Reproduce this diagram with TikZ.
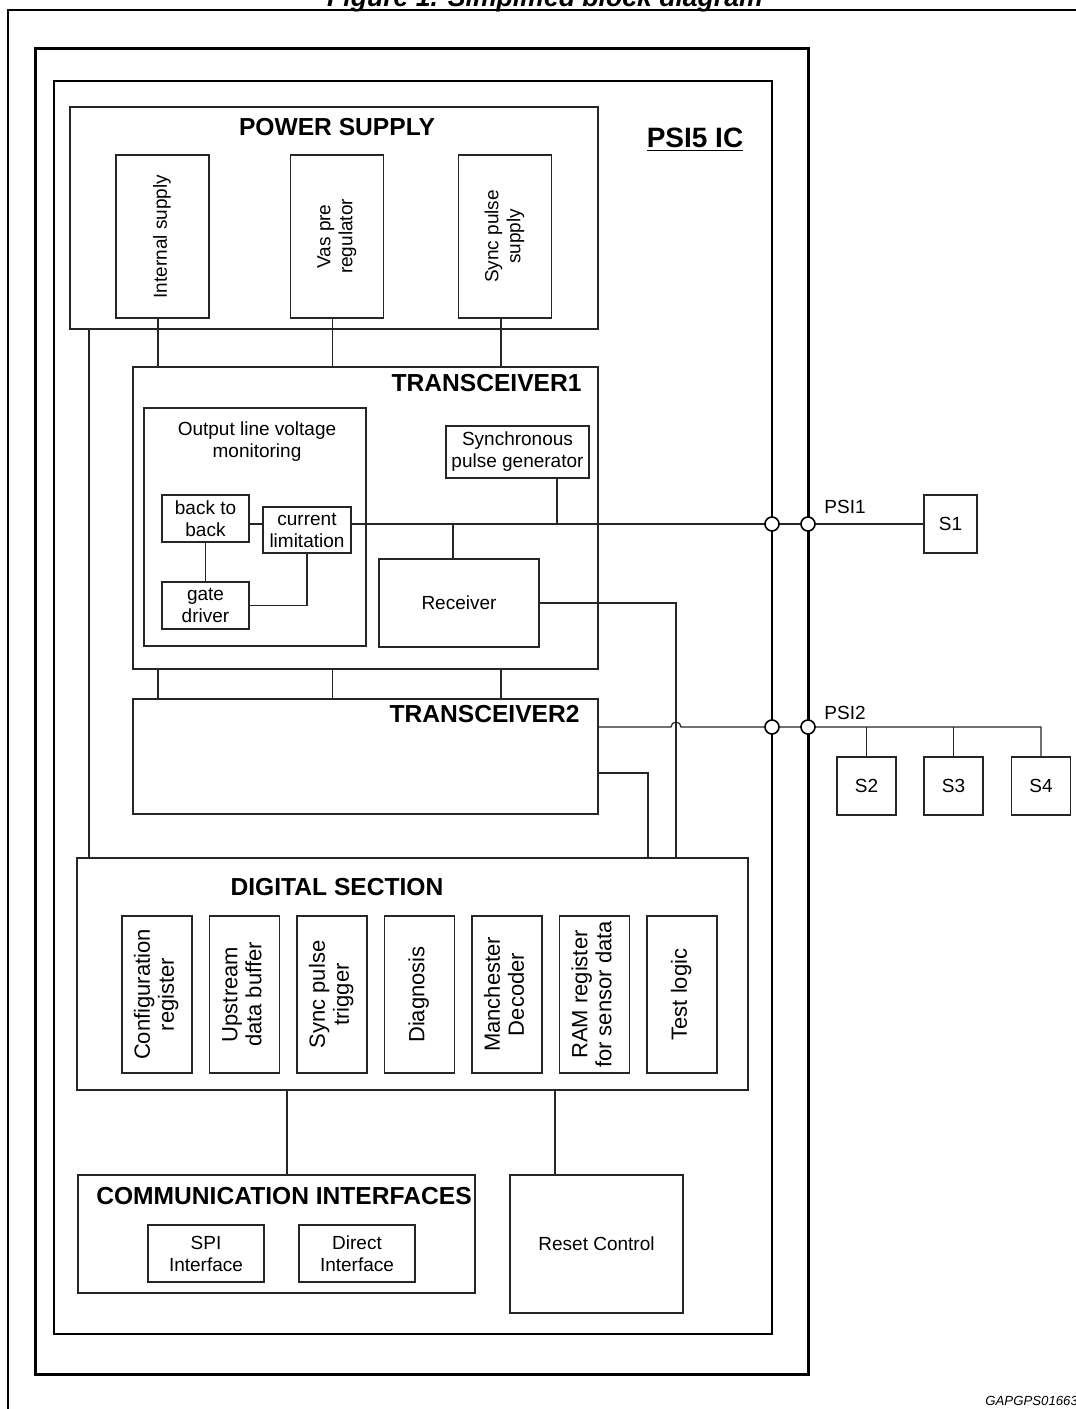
\documentclass[tikz,border=0pt]{standalone}
\usepackage{fontspec}
\setmainfont{Liberation Sans}
\usepackage{graphicx}

\tikzstyle{frame}=[draw=black, line width=1pt]
\tikzstyle{block}=[draw=black!85, line width=1pt, inner sep=0pt]
\tikzstyle{box}=[draw=black!85, line width=0.6pt, inner sep=0pt, align=center, font=\fontsize{9.5}{11}\selectfont]
\tikzstyle{head}=[inner sep=0pt, font=\fontsize{12.3}{14}\selectfont\bfseries]
\tikzstyle{lbl}=[inner sep=0pt, align=center, font=\fontsize{9.5}{11}\selectfont]
\tikzstyle{wire}=[draw=black!85, line width=0.6pt]
\tikzstyle{pin}=[circle, draw=black, fill=white, line width=0.8pt, minimum size=7pt, inner sep=0pt]

\newcommand{\vlab}[1]{\rotatebox{90}{\begin{tabular}{@{}c@{}}#1\end{tabular}}}

\begin{document}
\begin{tikzpicture}[x=0.5pt, y=-0.5pt]
	\useasboundingbox (0,0) rectangle (1076,1409);
	%title
	\node[inner sep=0pt, anchor=base, font=\fontsize{13.3}{15}\selectfont\bfseries\itshape] (title) at (545,6) {Figure 1. Simplified block diagram};
	%frames
	\draw[frame] (8,10) rectangle (1120,1440);
	\draw[frame, line width=1.5pt] (35,48) rectangle (808,1374);
	\draw[frame] (54,81) rectangle (772,1334);
	\node[inner sep=0pt, font=\fontsize{14}{16}\selectfont\bfseries] (ic) at (695,140) {\underline{PSI5 IC}};
	
	%power supply
	\node[block, minimum width=264pt, minimum height=111pt] (ps) at (334,218) {};
	\node[head] (pstitle) at (337,127) {POWER SUPPLY};
	\node[box, minimum width=46.5pt, minimum height=81.5pt] (intsup) at (162.5,236.5) {\vlab{Internal supply}};
	\node[box, minimum width=46.5pt, minimum height=81.5pt] (vaspre) at (337,236.5) {\vlab{Vas pre\\regulator}};
	\node[box, minimum width=46.5pt, minimum height=81.5pt] (syncsup) at (505,236.5) {\vlab{Sync pulse\\supply}};
	
	%transceiver 1
	\node[block, minimum width=232.5pt, minimum height=151pt] (tr1) at (365.5,518) {};
	\node[head, anchor=east] (tr1title) at (582,383) {TRANSCEIVER1};
	\node[box, minimum width=111pt, minimum height=119pt] (olvm) at (255,527) {};
	\node[lbl] (olvmtitle) at (257,442) {Output line voltage\\monitoring};
	\node[box, minimum width=43.5pt, minimum height=23.5pt] (btb) at (205.5,518.5) {back to\\back};
	\node[box, minimum width=44pt, minimum height=23pt] (curlim) at (307,530) {current\\limitation};
	\node[box, minimum width=43.5pt, minimum height=23.5pt] (gate) at (205.5,605.5) {gate\\driver};
	\node[box, minimum width=71.5pt, minimum height=26pt] (spg) at (517.5,452) {Synchronous\\pulse generator};
	\node[box, minimum width=80pt, minimum height=44pt] (rcv) at (459,603) {Receiver};
	
	%transceiver 2
	\node[block, minimum width=232.5pt, minimum height=57.5pt] (tr2) at (365.5,756.5) {};
	\node[head, anchor=east] (tr2title) at (580,714) {TRANSCEIVER2};
	
	%digital section
	\node[block, minimum width=335.5pt, minimum height=116pt] (dig) at (412.5,974) {};
	\node[head] (digtitle) at (337,887) {DIGITAL SECTION};
	\foreach \t [count=\i from 0] in {{Configuration\\register}, {Upstream\\data buffer}, {Sync pulse\\trigger}, {Diagnosis}, {Manchester\\Decoder}, {RAM register\\for sensor data}, {Test logic}}
	\node[box, font=\fontsize{11}{12}\selectfont, minimum width=35pt, minimum height=78.5pt] (d\i) at ({157+87.5*\i},994.5) {\vlab{\t}};
	
	%communication and reset
	\node[block, minimum width=198.5pt, minimum height=59pt] (comm) at (276.5,1234) {};
	\node[head] (commtitle) at (284,1196) {COMMUNICATION INTERFACES};
	\node[box, minimum width=58pt, minimum height=28.5pt] (spi) at (206,1253.5) {SPI\\Interface};
	\node[box, minimum width=58pt, minimum height=28.5pt] (direct) at (357,1253.5) {Direct\\Interface};
	\node[block, align=center, font=\fontsize{9.5}{11}\selectfont, minimum width=86.5pt, minimum height=69pt] (rst) at (596.5,1244) {Reset Control};
	
	%sensors
	\node[box, minimum width=26.5pt, minimum height=29pt] (s1) at (950.5,524) {S1};
	\node[box, minimum width=29.5pt, minimum height=29pt] (s2) at (866.5,786) {S2};
	\node[box, minimum width=29.5pt, minimum height=29pt] (s3) at (953.5,786) {S3};
	\node[box, minimum width=29.5pt, minimum height=29pt] (s4) at (1041,786) {S4};
	\node[lbl] (psi1) at (845,507) {PSI1};
	\node[lbl] (psi2) at (845,713) {PSI2};
	
	%wires
	\coordinate (v1) at (158,0);
	\coordinate (v2) at (332.5,0);
	\coordinate (v3) at (501,0);
	\coordinate (vl) at (89,0);
	\coordinate (vr) at (676,0);
	\coordinate (vt) at (648,0);
	\coordinate (vs) at (557,0);
	\coordinate (vq) at (453,0);
	\coordinate (vc) at (287,0);
	\coordinate (vd) at (555,0);
	\coordinate (y1) at (0,524);
	\coordinate (y2) at (0,727);
	\coordinate (y3) at (0,773);
	\draw[wire] (intsup.south -| v1) -- (tr1.north -| v1)
	(vaspre.south -| v2) -- (tr1.north -| v2)
	(syncsup.south -| v3) -- (tr1.north -| v3);
	\foreach \v in {v1,v2,v3}
	\draw[wire] (tr1.south -| \v) -- (tr2.north -| \v);
	\draw[wire] (ps.south -| vl) -- (dig.north -| vl);
	\draw[wire] (btb.east |- y1) -- (curlim.west |- y1);
	\draw[wire] (btb.south) -- (gate.north);
	\draw[wire] (curlim.south) |- (gate.east);
	\draw[wire] (curlim.east |- y1) -- (s1.west);
	\draw[wire] (spg.south -| vs) -- (vs |- y1);
	\draw[wire] (rcv.north -| vq) -- (vq |- y1);
	\draw[wire] (rcv.east) -| (dig.north -| vr);
	\draw[wire] (tr2.east |- y3) -| (dig.north -| vt);
	\draw[wire] (tr2.east |- y2) -- (671,727) arc[start angle=180, end angle=0, radius=2.5pt] -- (s4.north |- y2) -- (s4.north);
	\foreach \s in {s2,s3}
	\draw[wire] (\s.north |- y2) -- (\s.north);
	\draw[wire] (dig.south -| vc) -- (comm.north -| vc);
	\draw[wire] (dig.south -| vd) -- (rst.north -| vd);
	
	%pins
	\node[pin] (p1a) at (772,524) {};
	\node[pin] (p1b) at (808,524) {};
	\node[pin] (p2a) at (772,727) {};
	\node[pin] (p2b) at (808,727) {};
	
	\node[inner sep=0pt, anchor=base west, font=\fontsize{6.6}{8}\selectfont\itshape] (code) at (985,1405) {GAPGPS01663};
\end{tikzpicture}
\end{document}
